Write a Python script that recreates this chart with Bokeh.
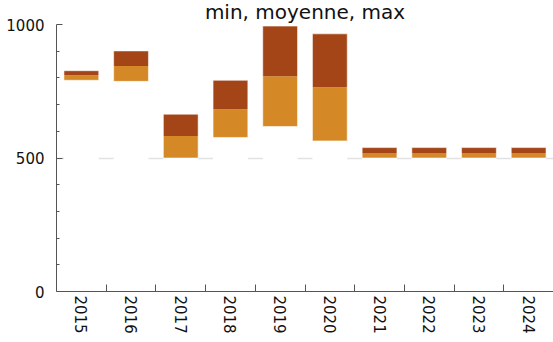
from bokeh.plotting import figure
from bokeh.models import Range1d, FixedTicker, ColumnDataSource
from bokeh.embed import file_html
from bokeh.resources import INLINE

years = ["2015", "2016", "2017", "2018", "2019", "2020", "2021", "2022", "2023", "2024"]
mins = [791, 787, 500, 577, 618, 564, 500, 500, 500, 500]
means = [810, 845, 582, 683, 806, 765, 517, 517, 517, 517]
maxs = [827, 901, 664, 791, 994, 965, 539, 539, 539, 539]

y_major = [0, 500, 1000]
y_minor = [100, 200, 300, 400, 600, 700, 800, 900]

ORANGE = "#d58926"
BROWN = "#a34517"
FONT = "DejaVu Sans"

n = len(years)
idx = list(range(n))
src = ColumnDataSource(dict(x=idx, zero=[0] * n, mn=mins, mean=means, mx=maxs))

p = figure(width=553, height=342, output_backend="svg", toolbar_location=None,
           x_range=Range1d(-0.5, n - 0.5), y_range=Range1d(0, 1000),
           min_border_left=56, min_border_right=0, min_border_top=24, min_border_bottom=51)
p.title.text = "min, moyenne, max"
p.title.align = "center"
p.title.vertical_align = "top"
p.title.text_font = FONT
p.title.text_font_size = "20px"
p.title.text_font_style = "normal"
p.title.text_color = "#111111"
p.title.standoff = -2
p.outline_line_color = None
p.background_fill_color = "white"
p.border_fill_color = "white"
p.xgrid.visible = False
p.ygrid.ticker = FixedTicker(ticks=[500, 1000])
p.ygrid.grid_line_color = "#e2e2e2"
p.ygrid.grid_line_width = 1.5

# white base hides the grid line behind each column
p.vbar(x="x", bottom="zero", top="mn", width=0.7, fill_color="white", line_color=None, source=src)
p.vbar(x="x", bottom="mn", top="mean", width=0.7, fill_color=ORANGE, line_color=None, source=src)
p.vbar(x="x", bottom="mean", top="mx", width=0.7, fill_color=BROWN, line_color=None, source=src)
# light outline around each whole min-max box
p.vbar(x="x", bottom="mn", top="mx", width=0.7, fill_color=None,
       line_color="white", line_alpha=0.55, line_width=1, source=src)

xa = p.xaxis[0]
xa.ticker = FixedTicker(ticks=idx, minor_ticks=[i + 0.5 for i in idx])
xa.major_label_overrides = {i: y for i, y in zip(idx, years)}
xa.major_label_orientation = "vertical"
xa.major_tick_line_color = None
xa.major_tick_in = 0
xa.major_tick_out = 0
xa.minor_tick_in = 7
xa.minor_tick_out = 0
xa.major_label_standoff = 4
xa.axis_line_color = "#555555"
xa.minor_tick_line_color = "#555555"
xa.major_label_text_font = FONT
xa.major_label_text_font_size = "15px"
xa.major_label_text_color = "#111111"

ya = p.yaxis[0]
ya.ticker = FixedTicker(ticks=y_major, minor_ticks=y_minor)
ya.major_tick_in = 6
ya.major_tick_out = 0
ya.minor_tick_in = 3
ya.minor_tick_out = 0
ya.major_label_standoff = 12
ya.axis_line_color = "#555555"
ya.major_tick_line_color = "#555555"
ya.minor_tick_line_color = "#555555"
ya.major_label_text_font = FONT
ya.major_label_text_font_size = "15px"
ya.major_label_text_color = "#111111"

open("out.html", "w").write(file_html(p, INLINE))
